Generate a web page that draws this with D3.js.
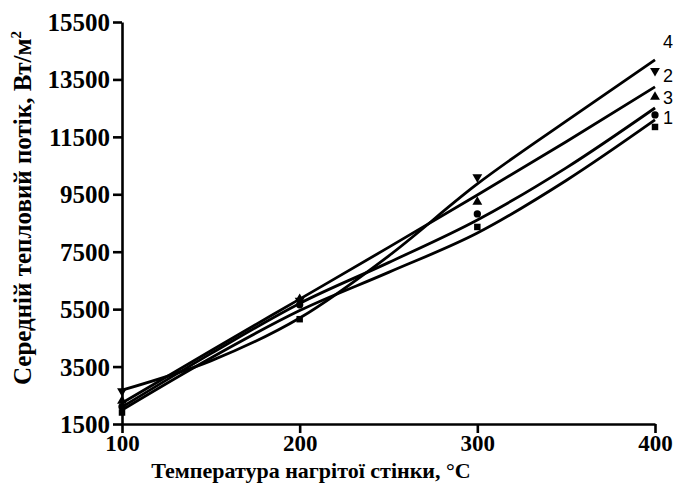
<!DOCTYPE html>
<html><head><meta charset="utf-8">
<script src="https://cdn.jsdelivr.net/npm/d3@7"></script>
<style>body{margin:0;background:#fff}svg{display:block}</style>
</head><body>
<script>
// ---- data ----
const xTicks = [100, 200, 300, 400];
const yTicks = [1500, 3500, 5500, 7500, 9500, 11500, 13500, 15500];
const curveT = [100, 150, 200, 250, 300, 350, 400];
const curve1 = [1990, 3800, 5450, 6780, 8150, 9980, 12090];
const curve2 = [2230, 4050, 5850, 7650, 9476, 11330, 13240];
const curve3 = [2090, 3950, 5700, 7120, 8605, 10420, 12506];
const curve4 = [2680, 3700, 5192, 7350, 9860, 12050, 14180];
const markT = [100, 200, 300, 400];
const mark1 = [1900, 5150, 8362, 11845]; // squares
const mark2 = [2300, 5850, 9232, 12890]; // up triangles
const mark3 = [2100, 5650, 8815, 12263]; // circles
const mark4 = [2650, 5800, 10103, 13800]; // down triangles
const curveLabels = ["4", "2", "3", "1"];
const curveLabelY = [14600, 13400, 12650, 11950];

const W = 674, H = 493;
const svg = d3.select("body").append("svg").attr("width", W).attr("height", H);
const x = d3.scaleLinear().domain([100, 400]).range([122, 655]);
const y = d3.scaleLinear().domain([1500, 15500]).range([424, 22]);
const serif = "'Liberation Serif','Times New Roman',serif";

// axes
const gx = svg.append("g").attr("transform", `translate(0,${y(1500)})`)
  .call(d3.axisBottom(x).tickValues(xTicks).tickFormat(d3.format("d")).tickSize(9).tickSizeOuter(0).tickPadding(2));
const gy = svg.append("g").attr("transform", `translate(${x(100)},0)`)
  .call(d3.axisLeft(y).tickValues(yTicks).tickFormat(d3.format("d")).tickSize(9).tickSizeOuter(0).tickPadding(3));
[gx, gy].forEach(g => {
  g.selectAll("path,line").attr("stroke", "#000").attr("stroke-width", 2.6);
  g.selectAll("text").attr("fill", "#000").attr("font-family", serif).attr("font-weight", "bold");
});
gx.selectAll("text").attr("font-size", 23);
gy.selectAll("text").attr("font-size", 25).attr("dy", "0.34em");

// curves
const line = d3.line().x(d => x(d[0])).y(d => y(d[1])).curve(d3.curveMonotoneX);
[curve1, curve2, curve3, curve4].forEach(c => {
  svg.append("path").datum(curveT.map((t, i) => [t, c[i]]))
    .attr("d", line).attr("fill", "none").attr("stroke", "#000").attr("stroke-width", 2.8);
});

// markers
const sym = [d3.symbolSquare, d3.symbolTriangle, d3.symbolCircle, d3.symbolTriangle];
const rot = [0, 0, 0, 180];
const size = [42, 42, 42, 42];
[mark1, mark2, mark3, mark4].forEach((m, k) => {
  svg.append("g").selectAll("path").data(markT.map((t, i) => [t, m[i]])).join("path")
    .attr("transform", d => `translate(${x(d[0])},${y(d[1])}) rotate(${rot[k]})`)
    .attr("d", d3.symbol().type(sym[k]).size(size[k])).attr("fill", "#000");
});

// curve labels at right edge
svg.append("g").selectAll("text").data(curveLabels).join("text")
  .attr("x", 663).attr("y", (d, i) => y(curveLabelY[i]))
  .attr("font-family", "'Liberation Sans',Arial,sans-serif").attr("font-size", 18)
  .text(d => d);

// axis titles
svg.append("text").attr("x", 311).attr("y", 478).attr("text-anchor", "middle")
  .attr("font-family", serif).attr("font-weight", "bold").attr("font-size", 22)
  .text("Температура нагрітої стінки, °C");
const yt = svg.append("text").attr("transform", "translate(31,208) rotate(-90)")
  .attr("text-anchor", "middle")
  .attr("font-family", serif).attr("font-weight", "bold").attr("font-size", 25);
yt.append("tspan").text("Середній тепловий потік, Вт/м");
yt.append("tspan").attr("dy", -10).attr("font-size", 15).text("2");
</script>
</body></html>
